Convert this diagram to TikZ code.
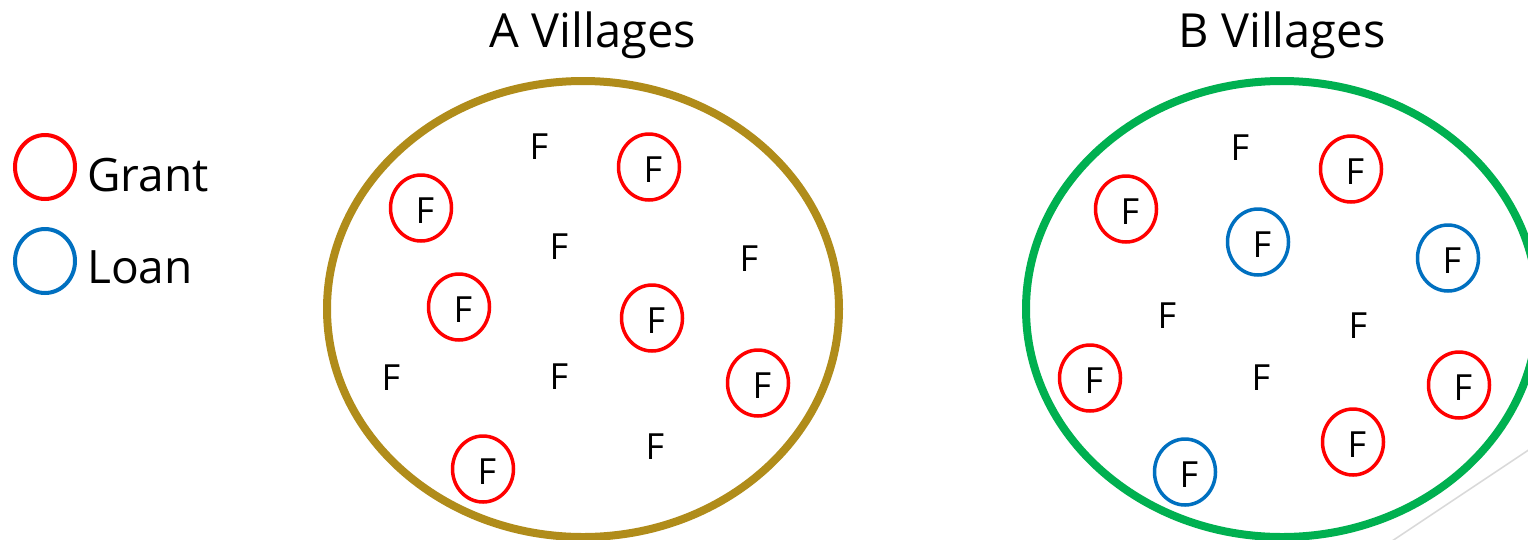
\documentclass[tikz,border=0pt]{standalone}
\usepackage{fontspec}
\setmainfont{Open Sans}
\usetikzlibrary{shapes.geometric}
\definecolor{goldc}{RGB}{176,140,26}
\definecolor{greenc}{RGB}{0,176,80}
\definecolor{redc}{RGB}{255,0,0}
\definecolor{bluec}{RGB}{0,112,192}
\definecolor{grayc}{RGB}{217,217,217}
\begin{document}
\begin{tikzpicture}[x=1pt,y=-1pt,
  village/.style={draw, ellipse, line width=8pt, minimum width=512pt, minimum height=456pt, inner sep=0pt},
  fam/.style={font=\fontsize{36}{40}\selectfont, inner sep=0pt},
  ring/.style={draw, ellipse, line width=3.5pt, minimum width=61pt, minimum height=66pt, inner sep=0pt,
     label={[fam, xshift=4pt, yshift=-3pt]center:F}},
  grant/.style={ring, draw=redc},
  loan/.style={ring, draw=bluec},
  title/.style={font=\fontsize{47}{50}\selectfont, anchor=base, inner sep=0pt},
  legtext/.style={font=\fontsize{46}{50}\selectfont, anchor=base west, inner sep=0pt},
  legring/.style={draw, ellipse, line width=4pt, minimum width=60pt, minimum height=64pt, inner sep=0pt}
]
\useasboundingbox (0,0) rectangle (1528,539);
\fill[white] (0,0) rectangle (1528,539);

% decorative line
\coordinate (g1) at (1380,549);
\coordinate (g2) at (1545,439);
\draw[grayc, line width=1.5pt] (g1) -- (g2);

% legend
\node[legring, draw=redc] (lg) at (45,167) {};
\node[legtext] (lgt) at (87,191) {Grant};
\node[legring, draw=bluec] (ll) at (45,261) {};
\node[legtext] (llt) at (87,283) {Loan};

% titles
\node[title] (ta) at (593,47) {A Villages};
\node[title] (tb) at (1282,47) {B Villages};

% A villages
\node[village, draw=goldc] (A) at (583,309) {};
\node[fam] (a1) at (539,147) {F};
\node[grant] (a2) at (649,167) {};
\node[grant] (a3) at (421,208) {};
\node[fam] (a4) at (559,247) {F};
\node[fam] (a5) at (749,259) {F};
\node[grant] (a6) at (459,307) {};
\node[grant] (a7) at (652,318) {};
\node[fam] (a8) at (391,378) {F};
\node[fam] (a9) at (559,377) {F};
\node[grant] (a10) at (758,383) {};
\node[fam] (a11) at (655,447) {F};
\node[grant] (a12) at (483,469) {};

% B villages
\node[village, draw=greenc] (B) at (1282,309) {};
\node[fam] (b1) at (1240,148) {F};
\node[grant] (b2) at (1351,169) {};
\node[grant] (b3) at (1126,209) {};
\node[loan] (b4) at (1258,242) {};
\node[loan] (b5) at (1448,258) {};
\node[fam] (b6) at (1167,316) {F};
\node[fam] (b7) at (1358,326) {F};
\node[grant] (b8) at (1090,378) {};
\node[fam] (b9) at (1261,378) {F};
\node[grant] (b10) at (1459,385) {};
\node[grant] (b11) at (1353,442) {};
\node[loan] (b12) at (1185,472) {};
\end{tikzpicture}
\end{document}
